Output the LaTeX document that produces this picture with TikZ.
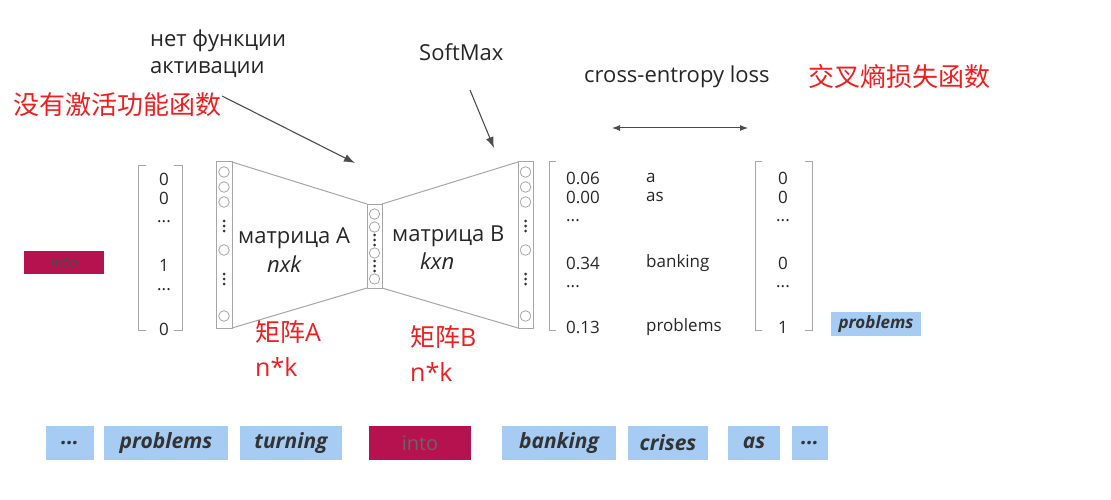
\documentclass[tikz,border=0pt]{standalone}
\usepackage{fontspec}
\setmainfont{Open Sans}
\newfontfamily\cjk{Noto Sans CJK SC}
\usetikzlibrary{arrows.meta}
\definecolor{crim}{HTML}{B5124F}
\definecolor{lblue}{HTML}{A6CCF4}
\definecolor{redt}{HTML}{F01E1E}
\tikzset{
 bar/.style={draw=gray!70,line width=1pt},
 cir/.style={draw=gray!70,line width=0.8pt},
 trap/.style={draw=gray!70,line width=1pt},
 word/.style={font=\itshape\bfseries\fontsize{21}{21}\selectfont,text=black!80,anchor=center},
 val/.style={font=\fontsize{17}{18}\selectfont,text=black!85},
 lab/.style={font=\fontsize{22}{24}\selectfont,text=black!85},
 red/.style={font=\cjk\fontsize{26}{30}\selectfont,text=redt},
 brk/.style={draw=gray!70,line width=1pt},
 arr/.style={-{Latex[length=11pt,width=8pt]},draw=gray!60!black,line width=1.1pt}
}
\newcommand{\dotsv}[2]{\foreach \dd in {-5,0,5}{\fill[black!80] (#1,#2+\dd) circle (1.5);}}
\begin{document}
\begin{tikzpicture}[x=1pt,y=-1pt]
\useasboundingbox (0,0) rectangle (1111,500);
% input bracket
\draw[brk] (146,165) -- (138,165) -- (138,330) -- (146,330);
\draw[brk] (174,165) -- (182,165) -- (182,330) -- (174,330);
\foreach \y/\t in {179/0,198/0,222/{...},265/1,290/{...},329/0}{\node[val] at (164,\y) {\t};}
% left bar
\draw[bar] (216,162) rectangle (232,328);
\foreach \y in {172,187,202,250,316}{\draw[cir] (224,\y) circle (5.3);}
\dotsv{224}{226}\dotsv{224}{279}
% middle bar
\draw[bar] (367,204) rectangle (382,288);
\foreach \y in {214,227,253,279}{\draw[cir] (374.5,\y) circle (5.2);}
\dotsv{374.5}{240}\dotsv{374.5}{266}
% right bar
\draw[bar] (518,162) rectangle (533,328);
\foreach \y in {172,187,202,250,316}{\draw[cir] (525.5,\y) circle (5.3);}
\dotsv{525.5}{226}\dotsv{525.5}{279}
% trapezoids
\draw[trap] (232,162) -- (367,204) (232,328) -- (367,288) (382,204) -- (518,162) (382,288) -- (518,328);
\node[lab,anchor=west,inner sep=0] (ma) at (238,238) {матрица A};
\node[lab,anchor=west,inner sep=0] (mad) at (267,264) {\itshape nxk};
\node[lab,anchor=west,inner sep=0] (mb) at (392,236) {матрица B};
\node[lab,anchor=west,inner sep=0] (mbd) at (420,261) {\itshape kxn};
% output bracket
\draw[brk] (556,162) -- (549,162) -- (549,330) -- (556,330);
\foreach \y/\t in {178/0.06,197/0.00,221/{...},263/0.34,287/{...},327/0.13}{\node[val,anchor=west,inner sep=0] at (566,\y) {\t};}
\foreach \y/\t in {178/a,197/as,263/banking,327/problems}{\node[val,anchor=west,inner sep=0] at (646,\y) {\t};}
% target bracket
\draw[brk] (762,162) -- (755,162) -- (755,330) -- (762,330);
\draw[brk] (805,162) -- (812,162) -- (812,330) -- (805,330);
\foreach \y/\t in {178/0,197/0,221/{...},263/0,287/{...},327/1}{\node[val] at (783,\y) {\t};}
% boxes
\node[fill=crim,minimum width=80pt,minimum height=23pt,inner sep=0,font=\itshape\fontsize{16}{16}\selectfont,text=black!70] (into1) at (64,262.5) {into};
\node[fill=lblue,minimum width=90pt,minimum height=24pt,inner sep=0,font=\itshape\bfseries\fontsize{17}{17}\selectfont,text=black!80] (prob1) at (876,324) {problems};
\foreach \n/\a/\b/\t/\c in {b1/46/94/{...}/lblue,b2/104/228/problems/lblue,b3/240/342/turning/lblue,b5/502/616/banking/lblue,b6/628/708/crises/lblue,b7/728/780/as/lblue,b8/792/828/{...}/lblue}{
 \node[fill=\c,minimum width=\b-\a,minimum height=34pt,inner sep=0,word] (\n) at ({(\a+\b)/2},443) {\t};}
\node[fill=crim,minimum width=102pt,minimum height=34pt,inner sep=0,font=\fontsize{20}{20}\selectfont,text=black!60] (b4) at (420,443) {into};
% annotations
\node[lab,anchor=north west,align=left,inner sep=0,font=\fontsize{22}{27}\selectfont] (nf) at (150,30) {нет функции\\активации};
\coordinate (nfa) at (222,96);
\coordinate (nfb) at (355,163);
\draw[arr] (nfa) -- (nfb);
\node[lab,anchor=west,inner sep=0] (sm) at (419,52) {SoftMax};
\coordinate (sma) at (470,90);
\coordinate (smb) at (494,148);
\draw[arr] (sma) -- (smb);
\node[lab,anchor=west,inner sep=0] (ce) at (584,77) {cross-entropy loss};
\coordinate (cea) at (612,128);
\coordinate (ceb) at (748,128);
\draw[{Latex[length=8pt,width=6pt]}-{Latex[length=8pt,width=6pt]},draw=gray!60!black,line width=1pt] (cea) -- (ceb);
\node[red,anchor=west,inner sep=0] (zh1) at (808,77) {交叉熵损失函数};
\node[red,anchor=west,inner sep=0] (zh2) at (13,105) {没有激活功能函数};
\node[red,anchor=north west,align=left,inner sep=0,font=\fontsize{25}{35}\selectfont] (zh3) at (255,320) {{\cjk 矩阵}A\\n*k};
\node[red,anchor=north west,align=left,inner sep=0,font=\fontsize{25}{35}\selectfont] (zh4) at (410,325) {{\cjk 矩阵}B\\n*k};
\end{tikzpicture}
\end{document}
